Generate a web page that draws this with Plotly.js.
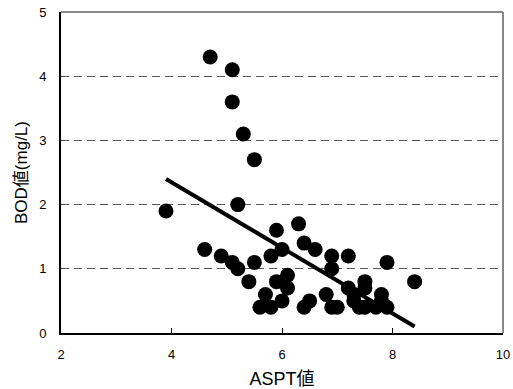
<!DOCTYPE html>
<html>
<head>
<meta charset="utf-8">
<script src="https://cdn.plot.ly/plotly-3.0.1.min.js"></script>
<style>html,body{margin:0;padding:0;background:#fff;}#chart{width:513px;height:389px;}</style>
</head>
<body>
<div id="chart"></div>
<script>
const asptValues = [3.9, 4.7, 5.1, 5.1, 5.3, 5.5, 5.2, 5.9, 6.3,
  4.6, 4.9, 5.1, 5.2, 5.5, 5.8, 6.0, 6.4, 6.6, 6.9, 7.2, 6.9, 7.9, 8.4,
  5.4, 5.9, 6.1, 6.1, 5.7, 6.0, 5.6, 5.8, 6.4, 6.5, 6.8, 6.9, 7.0,
  7.2, 7.3, 7.5, 7.5, 7.3, 7.4, 7.5, 7.8, 7.7, 7.9, 7.8];
const bodValues = [1.9, 4.3, 4.1, 3.6, 3.1, 2.7, 2.0, 1.6, 1.7,
  1.3, 1.2, 1.1, 1.0, 1.1, 1.2, 1.3, 1.4, 1.3, 1.2, 1.2, 1.0, 1.1, 0.8,
  0.8, 0.8, 0.9, 0.7, 0.6, 0.5, 0.4, 0.4, 0.4, 0.5, 0.6, 0.4, 0.4,
  0.7, 0.6, 0.8, 0.7, 0.5, 0.4, 0.4, 0.6, 0.4, 0.4, 0.5];
const trendX = [3.9, 8.4];
const trendY = [2.4, 0.1];
const xTicks = [2, 4, 6, 8, 10];
const yTicks = [0, 1, 2, 3, 4, 5];
const xTitle = "ASPT値";
const yTitle = "BOD値(mg/L)";

const fontFam = "Liberation Sans, Arial, Noto Sans CJK JP, sans-serif";

const data = [
  {x: asptValues, y: bodValues, type: "scatter", mode: "markers",
   marker: {size: 15, color: "#000"}, cliponaxis: false},
  {x: trendX, y: trendY, type: "scatter", mode: "lines",
   line: {color: "#000", width: 4}}
];

const layout = {
  width: 513, height: 389,
  margin: {l: 61, r: 10, t: 12, b: 56},
  paper_bgcolor: "#fff", plot_bgcolor: "#fff",
  showlegend: false,
  font: {family: fontFam, color: "#000", size: 13},
  xaxis: {
    range: [2, 10], tickvals: xTicks, ticktext: xTicks.map(String),
    showgrid: false, zeroline: false,
    showline: true, linecolor: "#000", linewidth: 2,
    ticks: "inside", ticklen: 5, tickcolor: "#000", tickwidth: 1,
    tickfont: {size: 13, family: fontFam},
    ticklabelstandoff: 8,
    title: {text: xTitle, font: {size: 18, family: fontFam}, standoff: 12}
  },
  yaxis: {
    range: [0, 5], tickvals: yTicks, ticktext: yTicks.map(String),
    showgrid: true, gridcolor: "#555", gridwidth: 1, griddash: "8px,5px",
    zeroline: false,
    showline: true, linecolor: "#000", linewidth: 2,
    ticks: "", tickfont: {size: 13, family: fontFam},
    ticklabelstandoff: 10,
    title: {text: yTitle, font: {size: 17, family: fontFam}, standoff: 7}
  },
  shapes: [
    {type: "line", xref: "paper", yref: "paper", x0: 0, x1: 1, y0: 1, y1: 1,
     line: {color: "#888", width: 2}},
    {type: "line", xref: "paper", yref: "paper", x0: 1, x1: 1, y0: 0, y1: 1,
     line: {color: "#888", width: 2}}
  ]
};

Plotly.newPlot("chart", data, layout, {displayModeBar: false, staticPlot: true});
</script>
</body>
</html>
